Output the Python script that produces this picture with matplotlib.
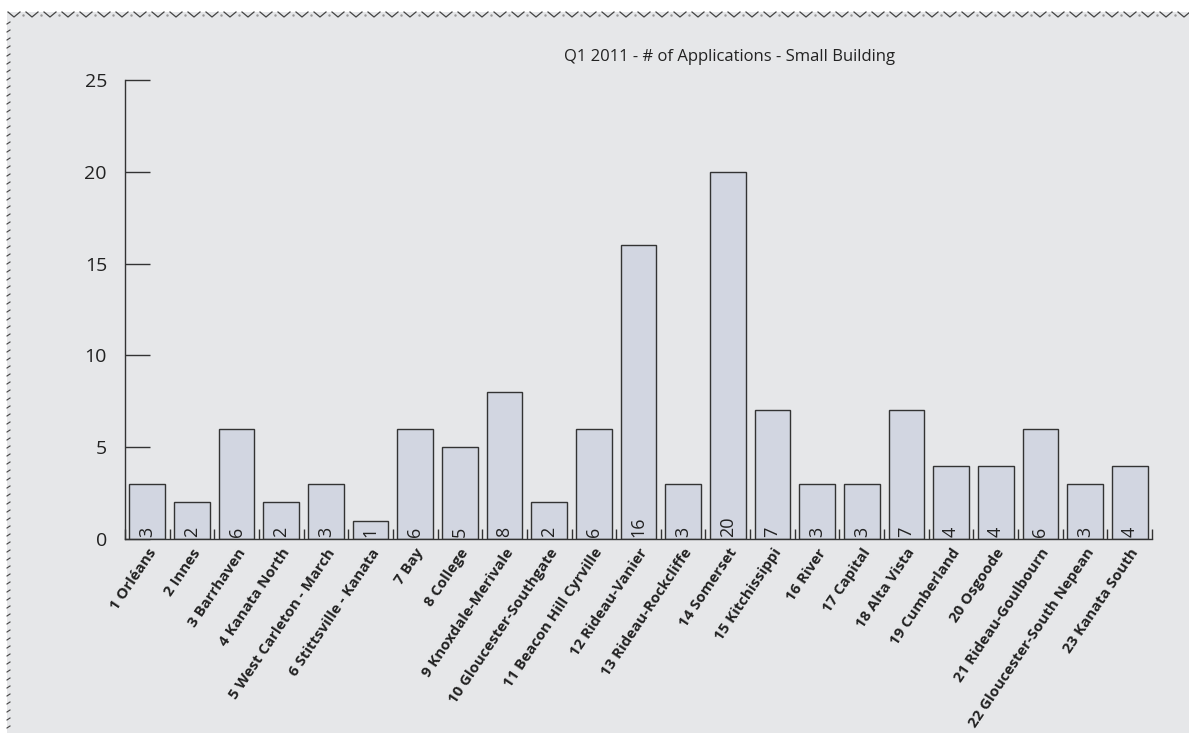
import matplotlib.pyplot as plt
import numpy as np
from matplotlib.lines import Line2D
from matplotlib.patches import Rectangle

plt.rcParams['font.family'] = ['Open Sans', 'DejaVu Sans']

wards = ["1 Orléans", "2 Innes", "3 Barrhaven", "4 Kanata North",
         "5 West Carleton - March", "6 Stittsville - Kanata", "7 Bay",
         "8 College", "9 Knoxdale-Merivale", "10 Gloucester-Southgate",
         "11 Beacon Hill Cyrville", "12 Rideau-Vanier", "13 Rideau-Rockcliffe",
         "14 Somerset", "15 Kitchissippi", "16 River", "17 Capital",
         "18 Alta Vista", "19 Cumberland", "20 Osgoode", "21 Rideau-Goulbourn",
         "22 Gloucester-South Nepean", "23 Kanata South"]
applications = [3, 2, 6, 2, 3, 1, 6, 5, 8, 2, 6, 16, 3, 20, 7, 3, 3, 7, 4, 4, 6, 3, 4]
y_ticks = [0, 5, 10, 15, 20, 25]

W, H = 1189, 733
bg = "#e6e7e9"
fig = plt.figure(figsize=(W / 100, H / 100), dpi=100, facecolor="white")

# grey panel with a row of little V marks on top and dashes down the left
fig.patches.append(Rectangle((7 / W, 0), 1, 1 - 12 / H, transform=fig.transFigure,
                             facecolor=bg, edgecolor="none", zorder=-2))
for x0 in range(8, W, 18):
    fig.lines.append(Line2D([x0 / W, (x0 + 6) / W, (x0 + 12) / W],
                            [1 - 12 / H, 1 - 17 / H, 1 - 12 / H],
                            transform=fig.transFigure, color="#444444", lw=0.9,
                            zorder=-1))
    fig.lines.append(Line2D([(x0 + 15) / W], [1 - 15 / H], marker=".", ms=1.5,
                            color="#999999", transform=fig.transFigure, zorder=-1))
for yy in range(22, H, 8):
    fig.lines.append(Line2D([7 / W, 10 / W], [1 - (yy + 2) / H, 1 - yy / H],
                            transform=fig.transFigure, color="#444444", lw=0.8,
                            zorder=-1))

ax = fig.add_axes([125 / W, 1 - 539 / H, (1152 - 125) / W, (539 - 80) / H])
ax.set_facecolor(bg)
ax.patch.set_alpha(0)

x = np.arange(len(wards))
bars = ax.bar(x, applications, width=0.8, color="#d2d6e1", edgecolor="#333333",
              linewidth=1.0, zorder=2)
for xi, v in zip(x, applications):
    ax.text(xi, 0.12, str(v), rotation=90, ha="center", va="bottom",
            fontsize=13, color="#222222", zorder=3)

ax.set_xlim(-0.5, len(wards) - 0.5)
ax.set_ylim(0, 25)
ax.set_yticks(y_ticks)
ax.tick_params(axis="y", direction="in", length=18, width=1, color="#333333",
               labelsize=14, pad=13, labelcolor="#222222")
ax.set_xticks(x)
ax.set_xticklabels(wards, rotation=56, ha="right", rotation_mode="anchor",
                   fontsize=10.8, fontweight="bold", color="#222222")
ax.tick_params(axis="x", which="major", length=0, pad=5)
ax.set_xticks(np.arange(-0.5, len(wards)), minor=True)
ax.tick_params(axis="x", which="minor", direction="in", length=7, width=1,
               color="#333333")

for s in ["top", "right"]:
    ax.spines[s].set_visible(False)
for s in ["left", "bottom"]:
    ax.spines[s].set_color("#333333")
    ax.spines[s].set_linewidth(1)

fig.text(730 / W, 1 - 57 / H, "Q1 2011 - # of Applications - Small Building",
         ha="center", va="center", fontsize=12, color="#222222")

fig.savefig("out.png", dpi=100, facecolor="white")
